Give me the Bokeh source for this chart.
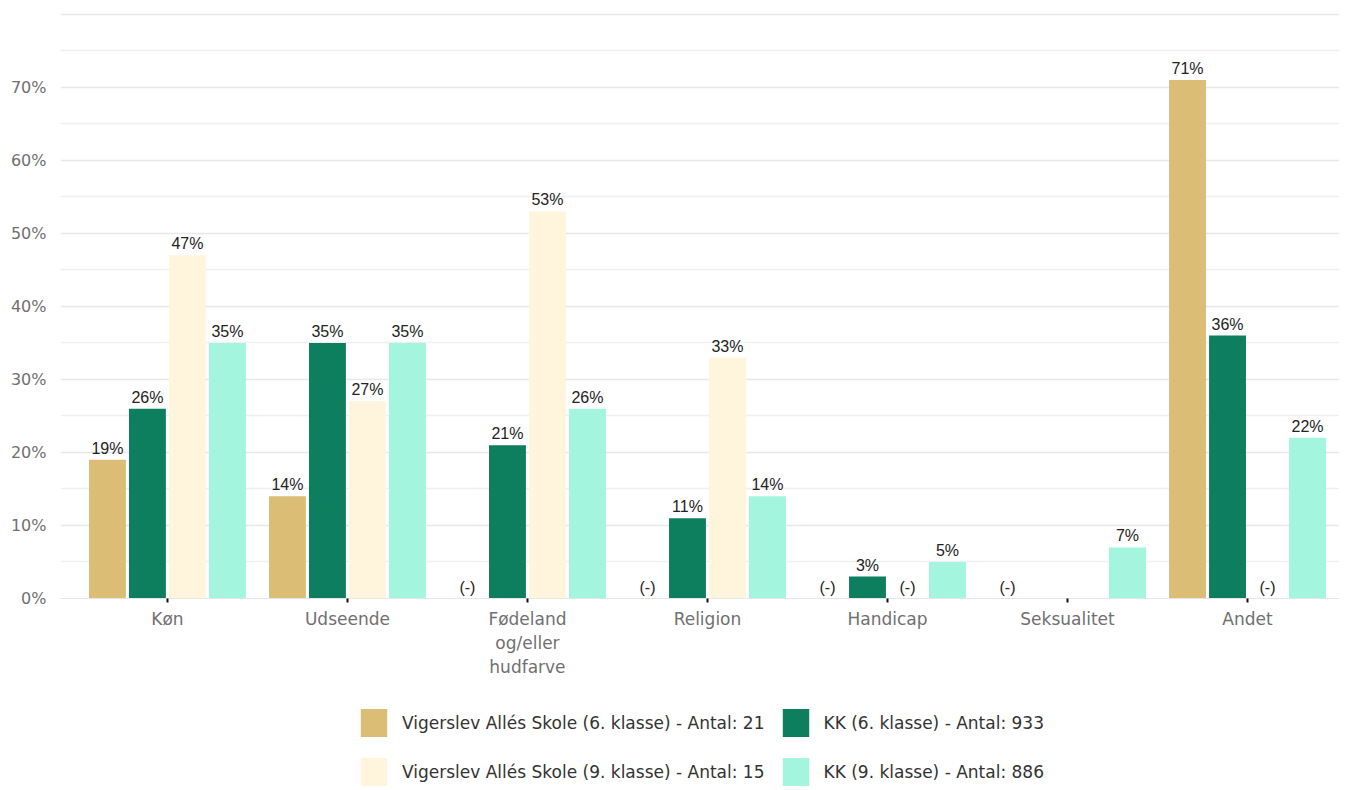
from bokeh.plotting import figure
from bokeh.models import (ColumnDataSource, Range1d, FixedTicker, PrintfTickFormatter,
                          Legend, LegendItem, LabelSet)
from bokeh.layouts import column
from bokeh.core.properties import value
from bokeh.embed import file_html
from bokeh.resources import INLINE

categories = ["Køn", "Udseende", "Fødeland\nog/eller\nhudfarve", "Religion",
              "Handicap", "Seksualitet", "Andet"]
series_names = ["Vigerslev Allés Skole (6. klasse) - Antal: 21",
                "KK (6. klasse) - Antal: 933",
                "Vigerslev Allés Skole (9. klasse) - Antal: 15",
                "KK (9. klasse) - Antal: 886"]
# None = "(-)" (too few answers), 0 = no bar, no label
vig6 = [19, 14, None, None, None, None, 71]
kk6 = [26, 35, 21, 11, 3, 0, 36]
vig9 = [47, 27, 53, 33, None, 0, None]
kk9 = [35, 35, 26, 14, 5, 7, 22]
series = [vig6, kk6, vig9, kk9]
colors = ["#dbbd76", "#0e7f5e", "#fef5dc", "#a3f5dd"]
y_ticks = [0, 10, 20, 30, 40, 50, 60, 70, 80]

step = 0.2222
bar_w = 0.205
offsets = [-1.5 * step, -0.5 * step, 0.5 * step, 1.5 * step]
FONT = "DejaVu Sans"

p = figure(width=1339, height=690, output_backend="svg", toolbar_location=None,
           title=None,
           x_range=Range1d(-0.594, 6.511), y_range=Range1d(0, 80.25),
           min_border_left=60, min_border_right=0, min_border_top=12,
           min_border_bottom=92)
p.outline_line_color = None

for k, vals in enumerate(series):
    xs = [i + offsets[k] for i in range(len(categories))]
    tops = [v if v is not None else 0 for v in vals]
    src = ColumnDataSource(dict(x=xs, top=tops))
    p.vbar(x="x", top="top", width=bar_w, source=src, fill_color=colors[k],
           line_color=None)
    lx, ly, lt = [], [], []
    for i, v in enumerate(vals):
        if v is None:
            lx.append(xs[i]); ly.append(0); lt.append("(-)")
        elif v > 0:
            lx.append(xs[i]); ly.append(v); lt.append(f"{v}%")
    lsrc = ColumnDataSource(dict(x=lx, y=ly, t=lt))
    p.add_layout(LabelSet(x="x", y="y", text="t", source=lsrc, text_align="center",
                          text_baseline="bottom", y_offset=3,
                          text_font=value("Liberation Sans"), text_font_size="16px",
                          text_color="#222222"))

# axes
p.xaxis.ticker = FixedTicker(ticks=list(range(len(categories))))
p.xaxis.major_label_overrides = {i: c for i, c in enumerate(categories)}
p.xaxis.major_label_text_font = FONT
p.xaxis.major_label_text_font_size = "17px"
p.xaxis.major_label_text_color = "#707070"
p.xaxis.major_label_text_line_height = 1.2
p.xaxis.axis_line_color = "#e6e6e6"
p.xaxis.major_tick_line_color = "#111111"
p.xaxis.major_tick_line_width = 2
p.xaxis.major_tick_in = 0
p.xaxis.major_tick_out = 4
p.xaxis.minor_tick_line_color = None
p.xaxis.major_label_standoff = 6

p.yaxis.ticker = FixedTicker(ticks=y_ticks)
p.yaxis.formatter = PrintfTickFormatter(format="%d%%")
p.yaxis.major_label_overrides = {80: ""}
p.yaxis.major_label_text_font = FONT
p.yaxis.major_label_text_font_size = "16px"
p.yaxis.major_label_text_color = "#707070"
p.yaxis.axis_line_color = None
p.yaxis.major_tick_line_color = None
p.yaxis.minor_tick_line_color = None
p.yaxis.major_label_standoff = 8

p.xgrid.grid_line_color = None
p.ygrid.ticker = FixedTicker(ticks=y_ticks, minor_ticks=[5, 15, 25, 35, 45, 55, 65, 75])
p.ygrid.grid_line_color = "#e8e8e8"
p.ygrid.grid_line_width = 1.5
p.ygrid.minor_grid_line_color = "#f0f0f0"
p.ygrid.minor_grid_line_width = 1.5
p.ygrid.level = "underlay"

# legend in its own small figure below the chart (swatch renderers lie outside its view)
lg = figure(width=1339, height=99, output_backend="svg", toolbar_location=None,
            title=None, x_range=Range1d(0, 1), y_range=Range1d(0, 1),
            x_axis_type=None, y_axis_type=None, min_border=0)
lg.outline_line_color = None
lg.xgrid.visible = False
lg.ygrid.visible = False
swatches = []
for k in range(len(series)):
    ssrc = ColumnDataSource(dict(x=[5], top=[5]))
    swatches.append(lg.vbar(x="x", top="top", bottom=4, width=0.1, source=ssrc,
                            fill_color=colors[k], line_color=None))

order = [0, 2, 1, 3]
legend = Legend(items=[LegendItem(label=series_names[k], renderers=[swatches[k]]) for k in order],
                location=(297, 0), orientation="vertical", ncols=2,
                glyph_width=33, glyph_height=35, label_standoff=12, spacing=14,
                label_text_font=FONT, label_text_font_size="17px",
                label_text_color="#333333", border_line_color=None,
                background_fill_alpha=0, padding=0, margin=0)
lg.add_layout(legend, "center")

open("out.html", "w").write(file_html(column(p, lg), INLINE))
